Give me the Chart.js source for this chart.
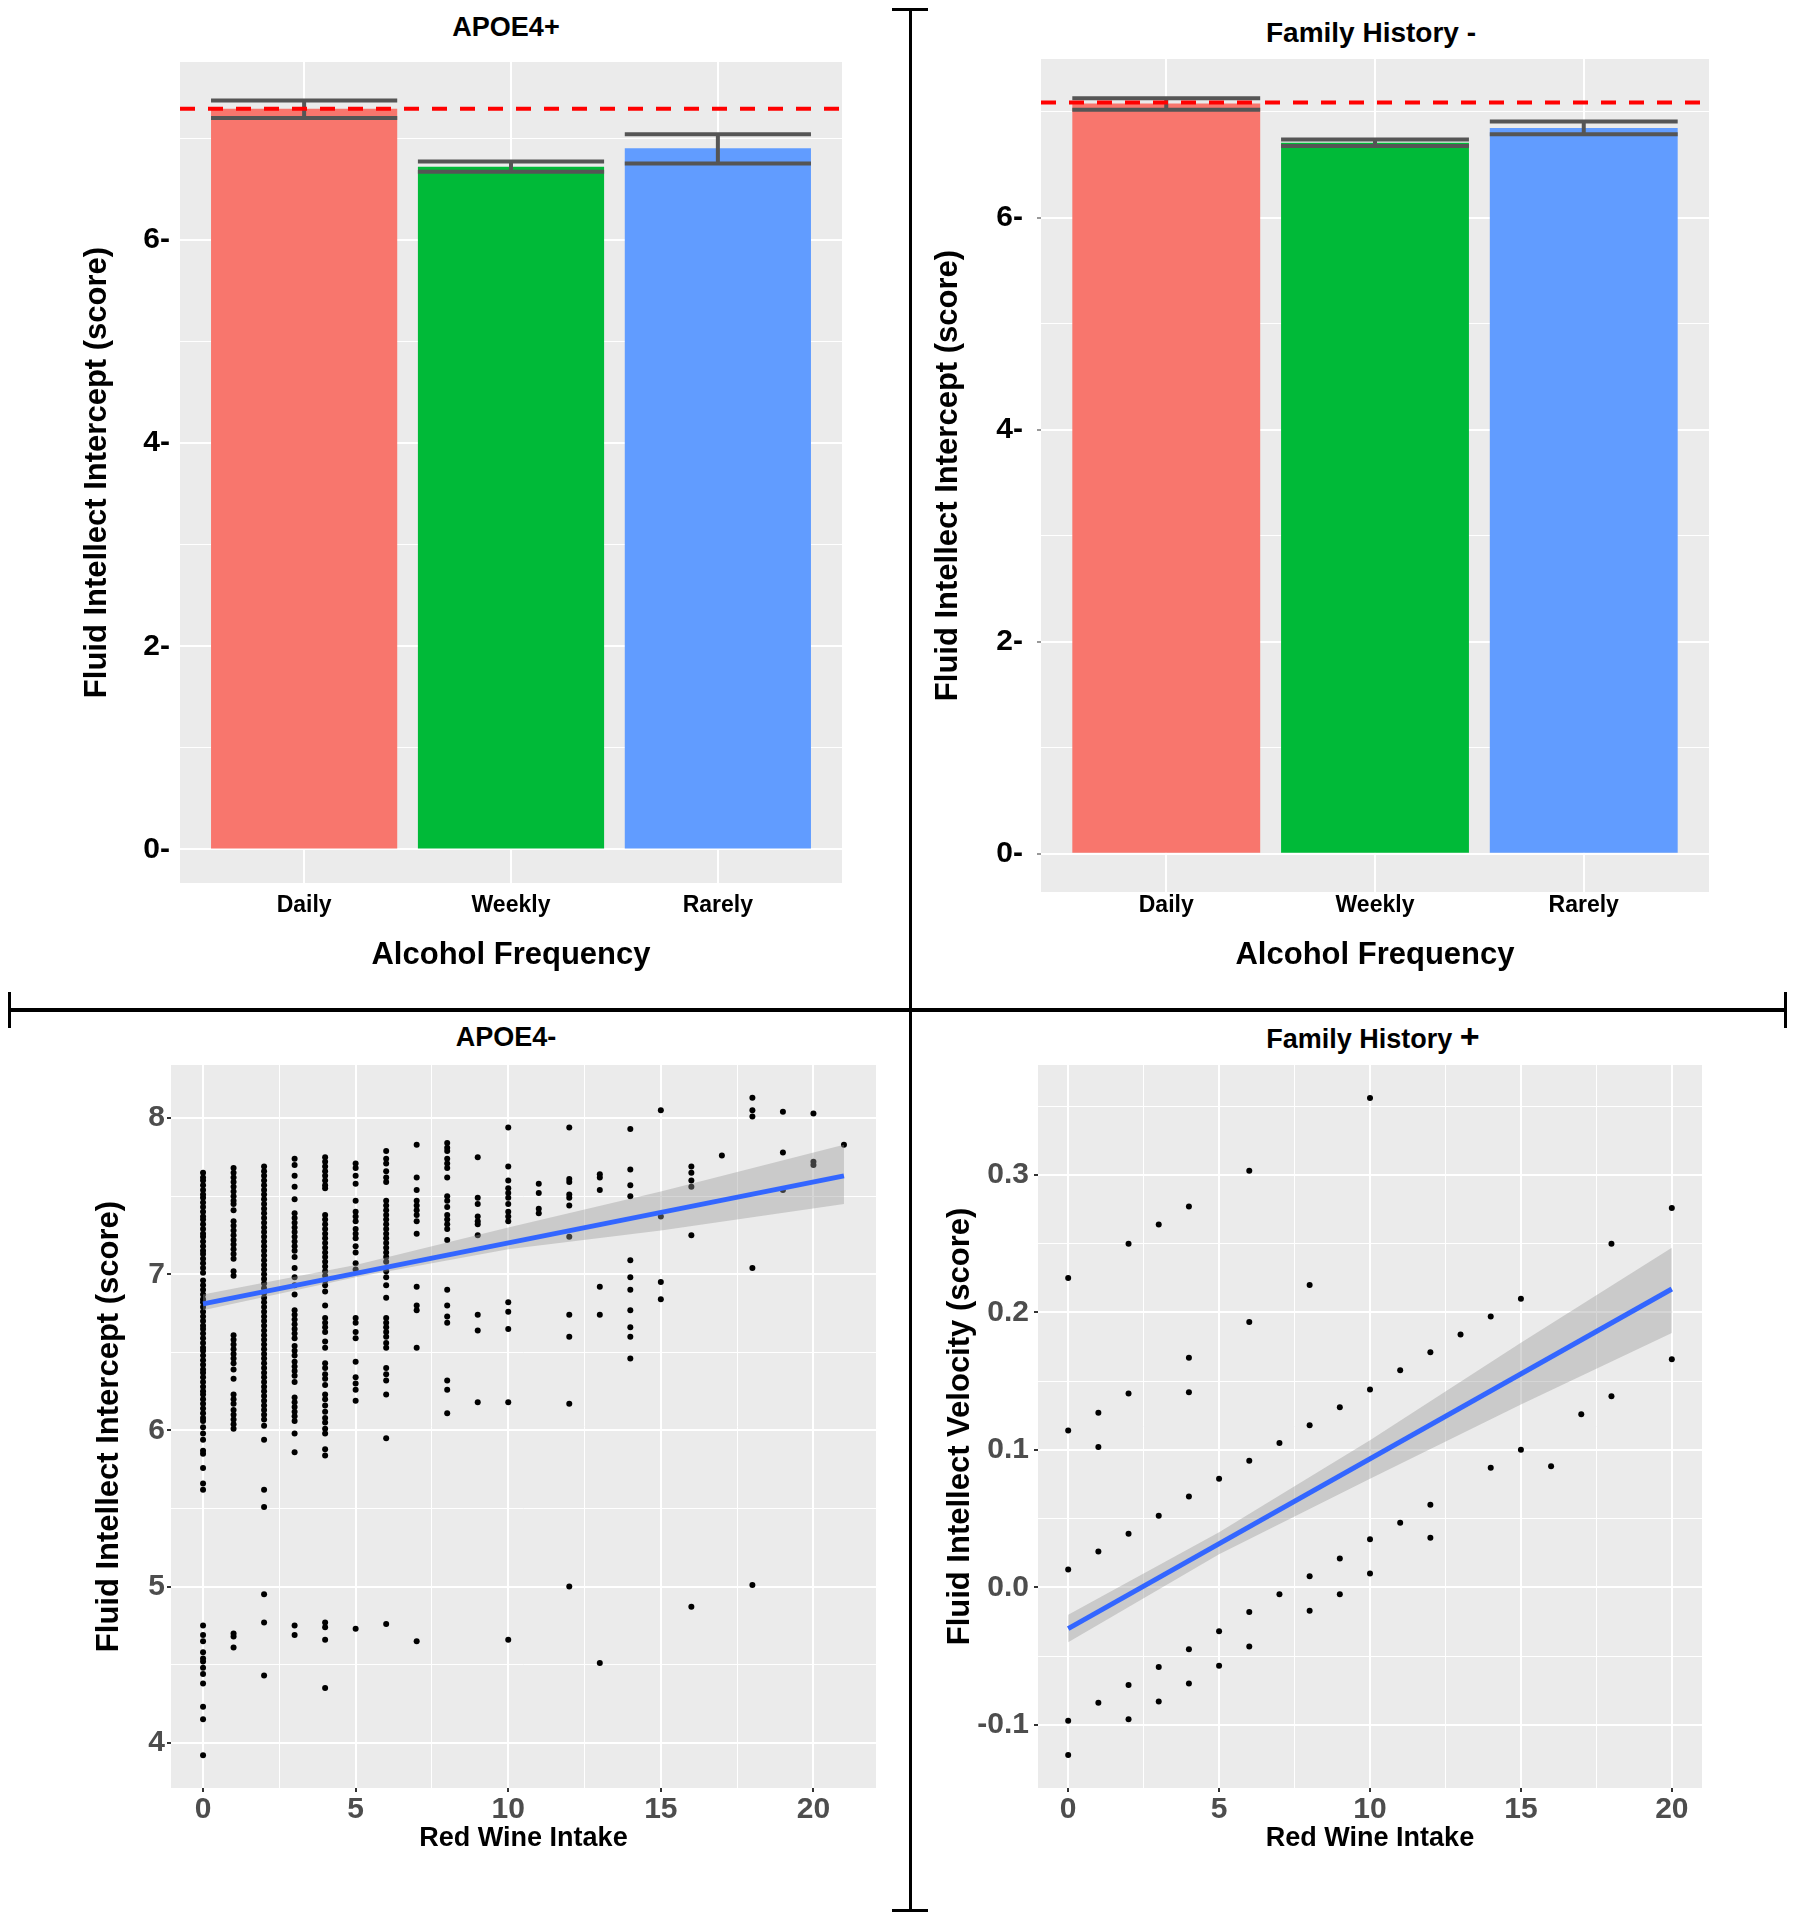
<!DOCTYPE html>
<html>
<head>
<meta charset="utf-8">
<title>Fluid intellect, alcohol frequency and red wine intake</title>
<script src="https://cdn.jsdelivr.net/npm/chart.js@4.4.1/dist/chart.umd.min.js"></script>
<style>
  body { margin: 0; background: #fff; width: 1794px; height: 1920px; position: relative; overflow: hidden; font-family: 'Liberation Sans', Arial, sans-serif; }
  canvas { position: absolute; }
  .title { position: absolute; width: 600px; text-align: center; font-weight: bold; font-size: 27px; line-height: 32px; color: #000; }
  .rule { position: absolute; background: #000; }
</style>
</head>
<body>
<div class="title" style="left:206px; top:11px;">APOE4+</div>
<div class="title" style="left:1071px; top:17px; font-size:28px;">Family History -</div>
<div class="title" style="left:206px; top:1021px;">APOE4-</div>
<div class="title" style="left:1073px; top:1020px;">Family History <span style="font-size:34px; line-height:32px;">+</span></div>

<div class="rule" style="left:909px; top:9px; width:3px; height:1902px;"></div>
<div class="rule" style="left:892px; top:8px; width:36px; height:3px;"></div>
<div class="rule" style="left:892px; top:1909px; width:36px; height:3px;"></div>
<div class="rule" style="left:9px; top:1008px; width:1778px; height:4px;"></div>
<div class="rule" style="left:8px; top:992px; width:3px; height:36px;"></div>
<div class="rule" style="left:1784px; top:992px; width:3px; height:36px;"></div>

<canvas id="apoePos" width="905" height="1000" style="left:0; top:0;"></canvas>
<canvas id="famNeg" width="882" height="1000" style="left:912px; top:0;"></canvas>
<canvas id="apoeNeg" width="905" height="908" style="left:0; top:1012px;"></canvas>
<canvas id="famPos" width="882" height="908" style="left:912px; top:1012px;"></canvas>

<script>
// bar panels: mean fluid intellect intercept by alcohol frequency
const freqLabels = ['Daily', 'Weekly', 'Rarely'];
const freqPos = [1, 2, 3];
const barXRange = [0.4, 3.6];
const barColors = ['#F8766D', '#00BA38', '#619CFF'];
const barYTicks = [0, 1, 2, 3, 4, 5, 6, 7];

const apoePosMean = [7.29, 6.72, 6.90];
const apoePosUpper = [7.37, 6.77, 7.04];
const apoePosLower = [7.20, 6.67, 6.75];
const apoePosRef = 7.29;

const famNegMean = [7.08, 6.71, 6.85];
const famNegUpper = [7.13, 6.74, 6.91];
const famNegLower = [7.02, 6.68, 6.79];
const famNegRef = 7.09;

// scatter panels: red wine intake vs fluid intellect
const wineTicks = [0, 2.5, 5, 7.5, 10, 12.5, 15, 17.5, 20];

const apoeNegWine = [0, 1, 2, 3, 4, 5, 6, 7, 8, 9, 10, 11, 12, 13, 14, 15, 16, 17, 18, 19, 20, 21];
const apoeNegScore = [
  [7.65, 7.62, 7.60, 7.57, 7.54, 7.51, 7.49, 7.46, 7.43, 7.40, 7.37, 7.35, 7.32, 7.29, 7.26, 7.24, 7.21, 7.18, 7.15, 7.13,
   7.10, 7.07, 7.04, 7.01, 6.96, 6.93, 6.90, 6.87, 6.84, 6.82, 6.79, 6.76, 6.73, 6.70, 6.67, 6.65, 6.62, 6.59, 6.56, 6.53,
   6.51, 6.48, 6.45, 6.42, 6.39, 6.37, 6.34, 6.31, 6.28, 6.25, 6.23, 6.20, 6.17, 6.14, 6.11, 6.08, 6.06, 6.02, 5.98, 5.94,
   5.87, 5.85, 5.76, 5.66, 5.62, 4.75, 4.69, 4.65, 4.58, 4.54, 4.52, 4.48, 4.44, 4.38, 4.23, 4.15, 3.92],
  [7.68, 7.65, 7.62, 7.59, 7.56, 7.53, 7.50, 7.47, 7.45, 7.41, 7.34, 7.31, 7.28, 7.25, 7.22, 7.19, 7.16, 7.13, 7.10, 7.02,
   6.99, 6.61, 6.58, 6.55, 6.52, 6.49, 6.46, 6.43, 6.39, 6.33, 6.23, 6.20, 6.17, 6.13, 6.10, 6.07, 6.04, 6.01, 4.70, 4.68, 4.61],
  [7.69, 7.66, 7.63, 7.60, 7.57, 7.54, 7.51, 7.48, 7.45, 7.42, 7.39, 7.36, 7.33, 7.30, 7.27, 7.24, 7.21, 7.18, 7.15, 7.12,
   7.09, 7.06, 7.03, 7.00, 6.97, 6.94, 6.91, 6.88, 6.85, 6.82, 6.79, 6.76, 6.73, 6.70, 6.67, 6.64, 6.61, 6.58, 6.55, 6.52,
   6.49, 6.46, 6.43, 6.40, 6.37, 6.34, 6.31, 6.28, 6.25, 6.22, 6.19, 6.16, 6.13, 6.10, 6.07, 6.03, 5.94, 5.62, 5.51, 4.95,
   4.77, 4.43],
  [7.74, 7.70, 7.63, 7.56, 7.48, 7.39, 7.36, 7.33, 7.30, 7.27, 7.24, 7.21, 7.18, 7.15, 7.11, 7.04, 6.98, 6.93, 6.87, 6.77,
   6.74, 6.71, 6.68, 6.65, 6.62, 6.59, 6.54, 6.51, 6.48, 6.44, 6.41, 6.38, 6.35, 6.31, 6.21, 6.18, 6.15, 6.12, 6.09, 6.06,
   5.98, 5.86, 4.75, 4.69],
  [7.75, 7.72, 7.69, 7.66, 7.63, 7.60, 7.57, 7.55, 7.38, 7.35, 7.32, 7.29, 7.26, 7.23, 7.20, 7.17, 7.14, 7.11, 7.08, 7.05,
   7.02, 6.99, 6.96, 6.93, 6.89, 6.80, 6.72, 6.69, 6.66, 6.63, 6.57, 6.53, 6.43, 6.40, 6.36, 6.33, 6.29, 6.23, 6.20, 6.16,
   6.12, 6.08, 6.05, 6.01, 5.98, 5.88, 5.84, 4.77, 4.74, 4.66, 4.35],
  [7.71, 7.68, 7.63, 7.58, 7.47, 7.40, 7.37, 7.34, 7.29, 7.26, 7.23, 7.18, 7.14, 7.07, 7.03, 6.72, 6.69, 6.63, 6.59, 6.44,
   6.34, 6.30, 6.26, 6.19, 4.73],
  [7.79, 7.74, 7.71, 7.66, 7.62, 7.59, 7.47, 7.44, 7.41, 7.38, 7.35, 7.32, 7.29, 7.26, 7.23, 7.20, 7.17, 7.14, 7.11, 7.08,
   7.02, 6.98, 6.93, 6.85, 6.72, 6.69, 6.66, 6.63, 6.60, 6.56, 6.53, 6.40, 6.36, 6.32, 6.23, 5.95, 4.76],
  [7.83, 7.62, 7.54, 7.47, 7.44, 7.41, 7.38, 7.34, 7.26, 6.92, 6.80, 6.77, 6.53, 4.65],
  [7.84, 7.81, 7.79, 7.74, 7.71, 7.68, 7.62, 7.50, 7.47, 7.43, 7.38, 7.35, 7.32, 7.29, 7.22, 6.90, 6.80, 6.73, 6.69, 6.32,
   6.26, 6.11],
  [7.75, 7.49, 7.45, 7.37, 7.34, 7.32, 7.25, 6.74, 6.64, 6.18],
  [7.94, 7.69, 7.60, 7.55, 7.52, 7.49, 7.45, 7.40, 7.37, 7.34, 6.82, 6.76, 6.65, 6.18, 4.66],
  [7.58, 7.52, 7.42, 7.39],
  [7.94, 7.61, 7.59, 7.51, 7.49, 7.44, 7.24, 6.74, 6.60, 6.17, 5.00],
  [7.64, 7.62, 7.54, 6.92, 6.74, 4.51],
  [7.93, 7.67, 7.57, 7.50, 7.09, 6.98, 6.90, 6.77, 6.66, 6.60, 6.46],
  [8.05, 7.37, 6.95, 6.84],
  [7.69, 7.65, 7.60, 7.56, 7.25, 4.87],
  [7.76],
  [8.13, 8.05, 8.01, 7.04, 5.01],
  [8.04, 7.78, 7.54],
  [8.03, 7.72, 7.70],
  [7.83]
];
const apoeNegFitX = [0, 21];
const apoeNegFitY = [6.81, 7.63];
const apoeNegBandX = [0, 5, 10, 15, 21];
const apoeNegBandHi = [6.87, 7.06, 7.30, 7.53, 7.83];
const apoeNegBandLo = [6.77, 6.98, 7.16, 7.28, 7.45];
const apoeNegYTicks = [4, 4.5, 5, 5.5, 6, 6.5, 7, 7.5, 8];

const famPosWine = [0, 1, 2, 3, 4, 5, 6, 7, 8, 9, 10, 11, 12, 13, 14, 15, 16, 17, 18, 20];
const famPosVelocity = [
  [0.225, 0.114, 0.013, -0.097, -0.122],
  [0.127, 0.102, 0.026, -0.084],
  [0.250, 0.141, 0.039, -0.071, -0.096],
  [0.264, 0.052, -0.058, -0.083],
  [0.277, 0.167, 0.142, 0.066, -0.045, -0.070],
  [0.079, -0.032, -0.057],
  [0.303, 0.193, 0.092, -0.018, -0.043],
  [0.105, -0.005],
  [0.220, 0.118, 0.008, -0.017],
  [0.131, 0.021, -0.005],
  [0.356, 0.144, 0.035, 0.010],
  [0.158, 0.047],
  [0.171, 0.060, 0.036],
  [0.184],
  [0.197, 0.087],
  [0.210, 0.100],
  [0.088],
  [0.126],
  [0.250, 0.139],
  [0.276, 0.166]
];
const famPosFitX = [0, 20];
const famPosFitY = [-0.030, 0.217];
const famPosBandX = [0, 5, 10, 15, 20];
const famPosBandHi = [-0.020, 0.040, 0.107, 0.178, 0.247];
const famPosBandLo = [-0.040, 0.024, 0.079, 0.133, 0.185];
const famPosYTicks = [-0.1, -0.05, 0, 0.05, 0.1, 0.15, 0.2, 0.25, 0.3, 0.35];

Chart.defaults.font.family = "'Liberation Sans', Arial, sans-serif";
Chart.defaults.color = '#000';

const panelBg = {
  id: 'panelBg',
  beforeDraw(chart) {
    const a = chart.chartArea;
    chart.ctx.save();
    chart.ctx.fillStyle = '#EBEBEB';
    chart.ctx.fillRect(a.left, a.top, a.right - a.left, a.bottom - a.top);
    chart.ctx.restore();
  }
};

function errorBars(upper, lower) {
  return {
    id: 'errorBars',
    afterDatasetDraw(chart, args) {
      if (args.index !== 0) return;
      const y = chart.scales.y;
      const ctx = chart.ctx;
      ctx.save();
      ctx.strokeStyle = '#555555';
      ctx.lineWidth = 4;
      args.meta.data.forEach(function (bar, i) {
        const half = bar.width / 2;
        const top = y.getPixelForValue(upper[i]);
        const bottom = y.getPixelForValue(lower[i]);
        ctx.beginPath();
        ctx.moveTo(bar.x - half, top); ctx.lineTo(bar.x + half, top);
        ctx.moveTo(bar.x - half, bottom); ctx.lineTo(bar.x + half, bottom);
        ctx.moveTo(bar.x, top); ctx.lineTo(bar.x, bottom);
        ctx.stroke();
      });
      ctx.restore();
    }
  };
}

function drawBarPanel(id, means, upper, lower, refValue, box) {
  new Chart(document.getElementById(id), {
    type: 'bar',
    data: {
      datasets: [{
        data: freqPos.map((x, i) => ({ x: x, y: means[i] })),
        backgroundColor: barColors,
        borderWidth: 0,
        barPercentage: 0.9,
        categoryPercentage: 1,
        order: 2
      }, {
        type: 'line',
        data: barXRange.map(x => ({ x: x, y: refValue })),
        borderColor: '#FF0000',
        borderWidth: 4,
        borderDash: [15, 13],
        pointRadius: 0,
        fill: false,
        order: 1
      }]
    },
    options: {
      responsive: false,
      animation: false,
      events: [],
      layout: { padding: box.pad },
      plugins: { legend: { display: false }, tooltip: { enabled: false } },
      scales: {
        x: {
          type: 'linear', min: barXRange[0], max: barXRange[1], bounds: 'data', offset: false,
          afterBuildTicks: s => { s.ticks = freqPos.map(v => ({ value: v })); },
          afterFit: s => { s.height = box.xHeight; },
          ticks: { callback: (v, i) => freqLabels[i], font: { size: 23, weight: 'bold' }, color: '#000', padding: box.xPad, maxRotation: 0, autoSkip: false },
          grid: { color: '#FFFFFF', lineWidth: 2, drawTicks: false, offset: false },
          border: { display: false },
          title: { display: true, text: 'Alcohol Frequency', font: { size: 31, weight: 'bold' }, color: '#000', padding: 0 }
        },
        y: {
          min: box.yRange[0], max: box.yRange[1], bounds: 'data',
          afterBuildTicks: s => { s.ticks = barYTicks.map(v => ({ value: v })); },
          afterFit: s => { s.width = box.yWidth; },
          ticks: { callback: (v, i) => i % 2 ? '' : v + '-', font: { size: 30, weight: 'bold' }, color: '#000', padding: box.yPad, autoSkip: false },
          grid: {
            color: '#FFFFFF',
            lineWidth: c => c.index % 2 ? 1 : 2,
            drawTicks: box.yTick > 0,
            tickLength: box.yTick,
            tickColor: c => c.index % 2 ? 'rgba(0,0,0,0)' : '#999999'
          },
          border: { display: false },
          title: { display: true, text: 'Fluid Intellect Intercept (score)', font: { size: 31, weight: 'bold' }, color: '#000', padding: 0 }
        }
      }
    },
    plugins: [panelBg, errorBars(upper, lower)]
  });
}

function drawScatterPanel(id, wine, cols, fitX, fitY, bandX, bandHi, bandLo, yTicks, yLabel, yTitle, box) {
  const points = [];
  cols.forEach(function (col, i) {
    col.forEach(v => points.push({ x: wine[i], y: v }));
  });
  const grid = {
    color: '#FFFFFF',
    lineWidth: c => c.index % 2 ? 1 : 2,
    drawTicks: true,
    tickLength: 4,
    tickWidth: 2,
    tickColor: c => c.index % 2 ? 'rgba(0,0,0,0)' : '#333333'
  };
  new Chart(document.getElementById(id), {
    type: 'scatter',
    data: {
      datasets: [{
        data: points,
        pointRadius: 3,
        pointBackgroundColor: '#000',
        pointBorderWidth: 0,
        order: 3
      }, {
        type: 'line',
        data: bandX.map((x, i) => ({ x: x, y: bandHi[i] })),
        fill: '+1',
        backgroundColor: 'rgba(153,153,153,0.4)',
        borderColor: 'rgba(0,0,0,0)',
        borderWidth: 0,
        pointRadius: 0,
        order: 2
      }, {
        type: 'line',
        data: bandX.map((x, i) => ({ x: x, y: bandLo[i] })),
        fill: false,
        borderColor: 'rgba(0,0,0,0)',
        borderWidth: 0,
        pointRadius: 0,
        order: 2
      }, {
        type: 'line',
        data: fitX.map((x, i) => ({ x: x, y: fitY[i] })),
        borderColor: '#3366FF',
        borderWidth: 5,
        pointRadius: 0,
        fill: false,
        order: 1
      }]
    },
    options: {
      responsive: false,
      animation: false,
      events: [],
      layout: { padding: box.pad },
      plugins: { legend: { display: false }, tooltip: { enabled: false } },
      scales: {
        x: {
          type: 'linear', min: box.xRange[0], max: box.xRange[1], bounds: 'data',
          afterBuildTicks: s => { s.ticks = wineTicks.map(v => ({ value: v })); },
          afterFit: s => { s.height = box.xHeight; },
          ticks: { callback: (v, i) => i % 2 ? '' : String(v), font: { size: 30, weight: 'bold' }, color: '#4D4D4D', padding: 0, maxRotation: 0, autoSkip: false },
          grid: grid,
          border: { display: false },
          title: { display: true, text: 'Red Wine Intake', font: { size: 27, weight: 'bold' }, color: '#000', padding: 0 }
        },
        y: {
          type: 'linear', min: box.yRange[0], max: box.yRange[1], bounds: 'data',
          afterBuildTicks: s => { s.ticks = yTicks.map(v => ({ value: v })); },
          afterFit: s => { s.width = box.yWidth; },
          ticks: { callback: (v, i) => i % 2 ? '' : yLabel(v), font: { size: 30, weight: 'bold' }, color: '#4D4D4D', padding: box.yPad, autoSkip: false },
          grid: grid,
          border: { display: false },
          title: { display: true, text: yTitle, font: { size: 31, weight: 'bold' }, color: '#000', padding: 0 }
        }
      }
    },
    plugins: [panelBg]
  });
}

drawBarPanel('apoePos', apoePosMean, apoePosUpper, apoePosLower, apoePosRef, {
  pad: { left: 79, top: 62, right: 63, bottom: 26 },
  yWidth: 101, xHeight: 91, yRange: [-0.33, 7.75], yPad: 10, yTick: 0, xPad: 9
});

drawBarPanel('famNeg', famNegMean, famNegUpper, famNegLower, famNegRef, {
  pad: { left: 18, top: 59, right: 85, bottom: 26 },
  yWidth: 111, xHeight: 82, yRange: [-0.36, 7.50], yPad: 14, yTick: 4, xPad: 0
});

drawScatterPanel('apoeNeg', apoeNegWine, apoeNegScore, apoeNegFitX, apoeNegFitY,
  apoeNegBandX, apoeNegBandHi, apoeNegBandLo, apoeNegYTicks, v => String(v),
  'Fluid Intellect Intercept (score)', {
    pad: { left: 91, top: 53, right: 29, bottom: 65 },
    yWidth: 80, xHeight: 67, xRange: [-1.05, 22.05], yRange: [3.71, 8.34], yPad: 2
  });

drawScatterPanel('famPos', famPosWine, famPosVelocity, famPosFitX, famPosFitY,
  famPosBandX, famPosBandHi, famPosBandLo, famPosYTicks, v => v.toFixed(1),
  'Fluid Intellect Velocity (score)', {
    pad: { left: 30, top: 53, right: 92, bottom: 65 },
    yWidth: 96, xHeight: 67, xRange: [-1, 21], yRange: [-0.146, 0.380], yPad: 5
  });
</script>
</body>
</html>
